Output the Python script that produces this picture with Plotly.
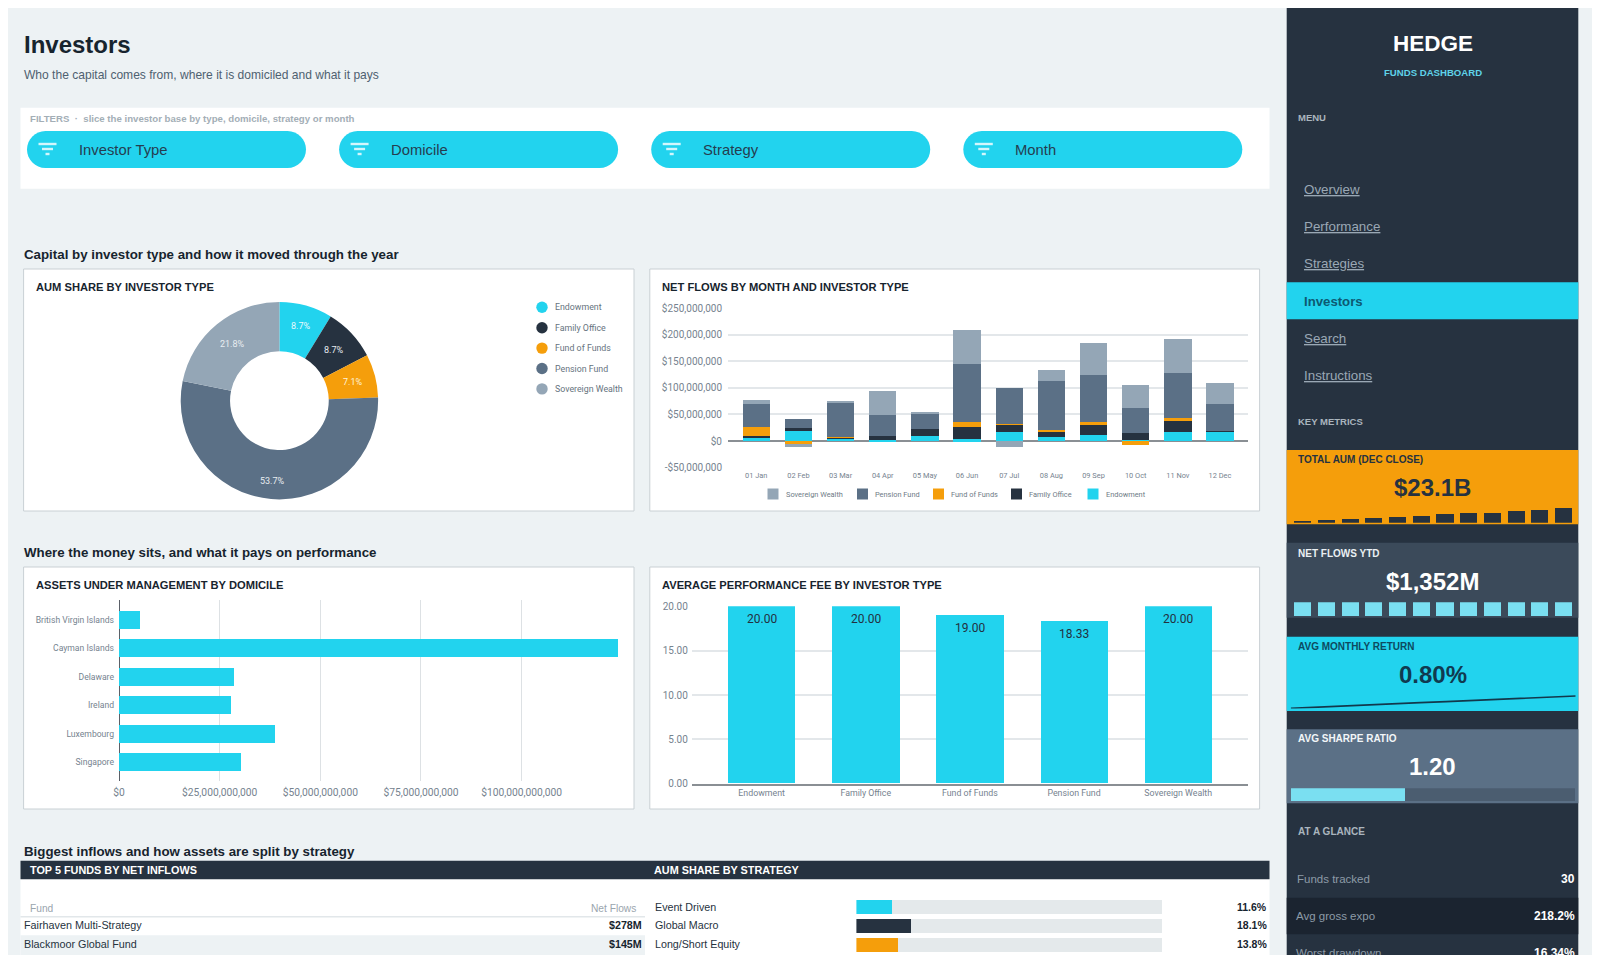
import plotly.graph_objects as go

# ---------- data ----------
INVESTOR_TYPES = ["Endowment", "Family Office", "Fund of Funds", "Pension Fund", "Sovereign Wealth"]
AUM_SHARE = [8.7, 8.7, 7.1, 53.7, 21.8]

MONTHS = ["01 Jan", "02 Feb", "03 Mar", "04 Apr", "05 May", "06 Jun", "07 Jul", "08 Aug", "09 Sep", "10 Oct", "11 Nov", "12 Dec"]
FLOW_ENDOWMENT = [6e6, 19.4e6, 4.4e6, 1.2e6, 10e6, 3e6, 16.3e6, 8e6, 12e6, 2e6, 16.3e6, 17.5e6]
FLOW_FAMILY = [4e6, 5e6, 2.5e6, 8.2e6, 13e6, 24e6, 15.6e6, 8.3e6, 18e6, 12.4e6, 22e6, 2e6]
FLOW_FOF = [15.6e6, -6e6, 0.5e6, 0, 0.3e6, 9.3e6, 0.2e6, 4.4e6, 6e6, -7.5e6, 5e6, 0.2e6]
FLOW_PENSION = [43.8e6, 18e6, 64.5e6, 40e6, 28.7e6, 109e6, 67e6, 93e6, 88e6, 47e6, 84.5e6, 50.5e6]
FLOW_SOVEREIGN = [7.5e6, -4.5e6, 3.5e6, 45.6e6, 2.4e6, 63e6, -10.6e6, 20.6e6, 61e6, 44e6, 64.5e6, 38e6]
FLOW_TICKS = [-50e6, 0, 50e6, 100e6, 150e6, 200e6, 250e6]
FLOW_TICK_LABELS = ["-$50,000,000", "$0", "$50,000,000", "$100,000,000", "$150,000,000", "$200,000,000", "$250,000,000"]

DOMICILES = ["British Virgin Islands", "Cayman Islands", "Delaware", "Ireland", "Luxembourg", "Singapore"]
DOMICILE_AUM = [5.2e9, 124e9, 28.5e9, 27.9e9, 38.7e9, 30.2e9]
DOMICILE_TICKS = [0, 25e9, 50e9, 75e9, 100e9, 125e9]
DOMICILE_TICK_LABELS = ["$0", "$25,000,000,000", "$50,000,000,000", "$75,000,000,000", "$100,000,000,000", ""]

PERF_FEE = [20.00, 20.00, 19.00, 18.33, 20.00]
FEE_TICKS = [0, 5, 10, 15, 20]

TOP_FUNDS = ["Fairhaven Multi-Strategy", "Blackmoor Global Fund"]
TOP_FUND_FLOWS = ["$278M", "$145M"]

STRATEGIES = ["Event Driven", "Global Macro", "Long/Short Equity"]
STRATEGY_SHARE = [11.6, 18.1, 13.8]

SPARK_AUM = [2.8, 4.5, 5.5, 6.6, 8.3, 10.0, 13.2, 14.9, 16.0, 18.7, 20.3, 23.1]
SPARK_FLOWS = [100, 100, 100, 100, 100, 100, 100, 100, 100, 100, 100, 100]
SPARK_RETURN = [0.8, 1.7, 2.5, 3.2, 4.1, 4.9, 5.6, 6.3, 7.0, 7.9, 8.8, 9.6]
SHARPE = 1.20
SHARPE_MAX = 3.0

NAV = ["Overview", "Performance", "Strategies", "Investors", "Search", "Instructions"]
GLANCE_LABELS = ["Funds tracked", "Avg gross expo", "Worst drawdown"]
GLANCE_VALUES = ["30", "218.2%", "16.34%"]
FILTERS = ["Investor Type", "Domicile", "Strategy", "Month"]

# ---------- styling ----------
CYAN = "#22D3EE"; NAVY = "#263240"; ORANGE = "#F59E0B"; SLATE = "#5B7086"; STEEL = "#94A6B6"
LIGHT = "#EDF2F4"; SKY = "#7ADFF1"; INK = "#17242E"
TYPE_COLORS = [CYAN, NAVY, ORANGE, SLATE, STEEL]
SANS = "Liberation Sans"; ROB = "Roboto"
TICK = "#76838F"; GRID = "#E3E7EA"

# page pixel -> figure fraction (page has 8 px body margin)
FW, FH = 1584, 947
def X(p): return (p - 8) / FW
def Y(p): return 1 - (p - 8) / FH

shapes, notes = [], []
def rect(x0, y0, x1, y1, fill, line=None):
    shapes.append(dict(type="rect", xref="paper", yref="paper", x0=X(x0), x1=X(x1), y0=Y(y0), y1=Y(y1),
                       fillcolor=fill, line=dict(color=line or fill, width=1 if line else 0), layer="below"))
def circle(cx, cy, r, fill):
    shapes.append(dict(type="circle", xref="paper", yref="paper", x0=X(cx - r), x1=X(cx + r), y0=Y(cy - r), y1=Y(cy + r),
                       fillcolor=fill, line=dict(width=0), layer="below"))
def pill(x0, y0, x1, y1, fill):
    r = (y1 - y0) / 2; k = r * 0.5523
    P = lambda x, y: f"{X(x):.6f},{Y(y):.6f}"
    d = (f"M{P(x0 + r, y0)} L{P(x1 - r, y0)} C{P(x1 - r + k, y0)} {P(x1, y0 + r - k)} {P(x1, y0 + r)} "
         f"C{P(x1, y0 + r + k)} {P(x1 - r + k, y1)} {P(x1 - r, y1)} L{P(x0 + r, y1)} "
         f"C{P(x0 + r - k, y1)} {P(x0, y0 + r + k)} {P(x0, y0 + r)} C{P(x0, y0 + r - k)} {P(x0 + r - k, y0)} {P(x0 + r, y0)} Z")
    shapes.append(dict(type="path", xref="paper", yref="paper", path=d, fillcolor=fill, line=dict(width=0), layer="below"))
def text(x, y, s, size, color=INK, bold=False, anchor="left", family=SANS, under=False):
    font = dict(size=size, color=color, family=family)
    if under:
        font["lineposition"] = "under"
    notes.append(dict(xref="paper", yref="paper", x=X(x), y=Y(y), text=f"<b>{s}</b>" if bold else s, showarrow=False,
                      xanchor=anchor, yanchor="middle", font=font, borderpad=0, borderwidth=0))

# ---------- page chrome ----------
text(24, 44.3, "Investors", 24, INK, True)
text(24, 74.5, "Who the capital comes from, where it is domiciled and what it pays", 12.05, "#4F6170")
rect(20.5, 107.7, 1269.5, 188.7, "#FFFFFF")
text(29.6, 118.2, "FILTERS  ·  slice the investor base by type, domicile, strategy or month", 9.65, "#A3AEB6", True)
for i, label in enumerate(FILTERS):
    x0 = 27 + i * 312.1
    pill(x0, 131, x0 + 279, 168, CYAN)
    for dy, w in ((144, 18), (149, 11), (154, 4)):
        cx = x0 + 20.5
        rect(cx - w / 2, dy - 1.2, cx + w / 2, dy + 1.2, "#D3F6FC")
    text(x0 + 51.5, 150, label, 14.8, "#253D50")

text(24, 254.2, "Capital by investor type and how it moved through the year", 13.3, INK, True)
text(24, 552.6, "Where the money sits, and what it pays on performance", 13.3, INK, True)
text(24, 851.3, "Biggest inflows and how assets are split by strategy", 13.3, INK, True)

for (x0, y0, x1, y1, title, pad) in [
    (23.6, 269, 634, 511, "AUM SHARE BY INVESTOR TYPE", 12.5),
    (649.8, 269, 1259.6, 511, "NET FLOWS BY MONTH AND INVESTOR TYPE", 11.8),
    (23.6, 567, 634, 809, "ASSETS UNDER MANAGEMENT BY DOMICILE", 12.5),
    (649.8, 567, 1259.6, 809, "AVERAGE PERFORMANCE FEE BY INVESTOR TYPE", 11.8),
]:
    rect(x0, y0, x1, y1, "#FFFFFF", "#C9D0D4")
    text(x0 + pad, y0 + 18, title, 11.15, INK, True)

# donut slice labels
for share, (lx, ly), col in zip(AUM_SHARE, [(300.6, 326.3), (333.7, 350.3), (352.4, 382), (272.8, 481), (232.2, 344)],
                                ["#E8FAFD", "#E8EDF1", "#FFF3DC", "#E8EDF1", "#E8EDF1"]):
    text(lx, ly, f"{share:.1f}%", 9, col, anchor="center", family=ROB)

# donut legend
for i, (name, col) in enumerate(zip(INVESTOR_TYPES, TYPE_COLORS)):
    yy = 307.3 + i * 20.4
    circle(542, yy, 5.7, col)
    text(555, yy, name, 8.8, "#66737E", family=ROB)

# flows legend
for name, col, xs, xt in zip(INVESTOR_TYPES[::-1], TYPE_COLORS[::-1], [767.5, 857, 933, 1011, 1087.5], [786, 875, 951, 1029, 1106]):
    rect(xs, 488.5, xs + 11, 499.5, col)
    text(xt, 494, name, 7.4, "#6E7B86", family=ROB)

# bottom tables
rect(20.5, 879, 1269.5, 956, "#FFFFFF")
rect(20.5, 860.7, 1269.5, 879.3, NAVY)
text(30.4, 869.7, "TOP 5 FUNDS BY NET INFLOWS", 10.85, "#FFFFFF", True)
text(654, 869.7, "AUM SHARE BY STRATEGY", 10.85, "#FFFFFF", True)
text(29.6, 908.7, "Fund", 10.2, "#9AA5AE")
text(635.6, 908.7, "Net Flows", 10.2, "#9AA5AE", anchor="right")
rect(20.5, 916, 645, 917.5, "#E2E7EA")
rect(20.5, 935.3, 645, 956, LIGHT)
for i, (name, val) in enumerate(zip(TOP_FUNDS, TOP_FUND_FLOWS)):
    yy = 925.3 + i * 18.6
    text(24.3, yy, name, 10.8, "#26323E")
    text(641.7, yy, val, 10.7, INK, True, anchor="right")
for i, (name, share) in enumerate(zip(STRATEGIES, STRATEGY_SHARE)):
    yy = 906.6 + i * 18.7
    text(654.5, yy, name, 10.7, "#26323E")
    text(1267, yy, f"{share:.1f}%", 10.5, INK, True, anchor="right")

# sidebar
rect(1286.7, 0, 1578.3, 960, NAVY)
text(1432.7, 44, "HEDGE", 22.5, "#FFFFFF", True, anchor="center")
text(1432.7, 72.7, "FUNDS DASHBOARD", 9.6, "#5FD3E9", True, anchor="center")
text(1298.2, 117.8, "MENU", 9.5, "#AAB5BE", True)
rect(1286.7, 282.3, 1578.3, 319.3, CYAN)
for name, yy in zip(NAV, [189.3, 226.7, 263.7, 301.7, 338.5, 375.5]):
    if name == "Investors":
        text(1304.3, yy, name, 13.2, "#0D5A72", True)
    else:
        text(1304.3, yy, name, 13.35, "#9AA8B5", under=True)
text(1298.2, 421.3, "KEY METRICS", 9.5, "#AAB5BE", True)

rect(1286.7, 450, 1578.3, 524.3, ORANGE)
text(1298.2, 459.3, "TOTAL AUM (DEC CLOSE)", 10, "#263240", True)
text(1432.7, 487.3, "$23.1B", 24, "#263240", True, anchor="center")
rect(1286.7, 542.7, 1578.3, 617.7, "#3B4A5A")
text(1298.2, 553.3, "NET FLOWS YTD", 10, "#EAF0F3", True)
text(1432.7, 581.3, "$1,352M", 24, "#FFFFFF", True, anchor="center")
rect(1286.7, 636.7, 1578.3, 711, CYAN)
text(1298.2, 646, "AVG MONTHLY RETURN", 10, "#0D4A60", True)
text(1432.7, 674, "0.80%", 24, "#103A50", True, anchor="center")
rect(1286.7, 729.3, 1578.3, 803.3, SLATE)
text(1298.2, 738.9, "AVG SHARPE RATIO", 10, "#F2F6F8", True)
text(1432.7, 766.9, f"{SHARPE:.2f}", 24, "#FFFFFF", True, anchor="center")
text(1298.2, 831.9, "AT A GLANCE", 10, "#AAB5BE", True)
rect(1286.7, 897.7, 1578.3, 934.3, "#1B2430")
for i, (name, val) in enumerate(zip(GLANCE_LABELS, GLANCE_VALUES)):
    yy = 879 + i * 37.2
    text(1296 if i else 1296.5, yy, name, 11.5, "#8D9BA7")
    text(1575, yy, val, 12, "#FFFFFF", True, anchor="right")

# ---------- traces ----------
fig = go.Figure()
fig.add_trace(go.Pie(labels=INVESTOR_TYPES, values=AUM_SHARE, hole=0.5, sort=False, direction="clockwise", rotation=0,
                     marker=dict(colors=TYPE_COLORS, line=dict(width=0)), textinfo="none", showlegend=False,
                     domain=dict(x=[X(279.4 - 98.7), X(279.4 + 98.7)], y=[Y(400.7 + 98.7), Y(400.7 - 98.7)])))

for name, vals, col in zip(INVESTOR_TYPES, [FLOW_ENDOWMENT, FLOW_FAMILY, FLOW_FOF, FLOW_PENSION, FLOW_SOVEREIGN], TYPE_COLORS):
    fig.add_trace(go.Bar(x=MONTHS, y=vals, name=name, marker=dict(color=col, line=dict(width=0)), width=0.65,
                         xaxis="x", yaxis="y", showlegend=False))

fig.add_trace(go.Bar(y=DOMICILES, x=DOMICILE_AUM, orientation="h", marker=dict(color=CYAN, line=dict(width=0), cornerradius=1),
                     width=0.63, xaxis="x2", yaxis="y2", showlegend=False))

fig.add_trace(go.Bar(x=INVESTOR_TYPES, y=PERF_FEE, marker=dict(color=CYAN, line=dict(width=0)), width=0.647,
                     xaxis="x3", yaxis="y3", showlegend=False))
for name, v in zip(INVESTOR_TYPES, PERF_FEE):
    notes.append(dict(xref="x3", yref="y3", x=name, y=v, yshift=-12.5, text=f"{v:.2f}", showarrow=False,
                      yanchor="middle", font=dict(size=12, color="#22303F", family=ROB)))

fig.add_trace(go.Bar(y=STRATEGIES, x=STRATEGY_SHARE, orientation="h", marker=dict(color=TYPE_COLORS[:3], line=dict(width=0)),
                     width=0.75, xaxis="x4", yaxis="y4", showlegend=False))
fig.add_trace(go.Bar(y=STRATEGIES, x=[100 - s for s in STRATEGY_SHARE], orientation="h", marker=dict(color="#E4E9EB", line=dict(width=0)),
                     width=0.75, xaxis="x4", yaxis="y4", showlegend=False))

IDX = list(range(12))
fig.add_trace(go.Bar(x=IDX, y=SPARK_AUM, marker=dict(color="#263240", line=dict(width=0)), width=0.72, xaxis="x5", yaxis="y5", showlegend=False))
fig.add_trace(go.Bar(x=IDX, y=SPARK_FLOWS, marker=dict(color=SKY, line=dict(width=0)), width=0.72, xaxis="x6", yaxis="y6", showlegend=False))
fig.add_trace(go.Scatter(x=IDX, y=SPARK_RETURN, mode="lines", line=dict(color="#12384C", width=1.6), xaxis="x7", yaxis="y7", showlegend=False))
fig.add_trace(go.Bar(y=["s"], x=[SHARPE], orientation="h", marker=dict(color=SKY, line=dict(width=0)), width=1, xaxis="x8", yaxis="y8", showlegend=False))
fig.add_trace(go.Bar(y=["s"], x=[SHARPE_MAX - SHARPE], orientation="h", marker=dict(color="#4B5D70", line=dict(width=0)), width=1, xaxis="x8", yaxis="y8", showlegend=False))

def hidden(a, b, rng=None, **kw):
    d = dict(domain=[a, b], visible=False, fixedrange=True, **kw)
    if rng is not None:
        d["range"] = rng
    return d

layout = dict(
    width=FW, height=FH, margin=dict(l=0, r=0, t=0, b=0, pad=0, autoexpand=False), autosize=False,
    paper_bgcolor=LIGHT, plot_bgcolor="rgba(0,0,0,0)", barmode="relative", bargap=0, hovermode=False,
    font=dict(family=ROB, color=TICK), showlegend=False, shapes=shapes, annotations=notes,
    # net flows
    xaxis=dict(domain=[X(728), X(1248)], range=[-0.671, 11.665], type="category", categoryorder="array", categoryarray=MONTHS,
               anchor="y", showgrid=False, zeroline=False, tickfont=dict(size=7.4, color=TICK), ticks="", ticklabelstandoff=2),
    yaxis=dict(domain=[Y(467.7), Y(308)], range=[-50e6, 250e6], anchor="x", tickvals=FLOW_TICKS, ticktext=FLOW_TICK_LABELS,
               gridcolor=GRID, gridwidth=1.5, zeroline=True, zerolinecolor="#8A8F94", zerolinewidth=2,
               tickfont=dict(size=10, color=TICK), ticks="", ticklabelstandoff=5),
    # domicile
    xaxis2=dict(domain=[X(119), X(622.3)], range=[0, 125e9], anchor="y2", tickvals=DOMICILE_TICKS, ticktext=DOMICILE_TICK_LABELS,
                gridcolor="#DDE1E4", gridwidth=1, zeroline=True, zerolinecolor="#5A6068", zerolinewidth=1,
                tickfont=dict(size=10.25, color=TICK), ticks="", ticklabelstandoff=4),
    yaxis2=dict(domain=[Y(781), Y(600)], range=[5.65, -0.70], type="category", categoryorder="array", categoryarray=DOMICILES,
                anchor="x2", showgrid=False, zeroline=False, tickfont=dict(size=8.6, color=TICK), ticks="", ticklabelstandoff=4),
    # fees
    xaxis3=dict(domain=[X(691.8), X(1248)], range=[-0.67, 4.67], type="category", categoryorder="array", categoryarray=INVESTOR_TYPES,
                anchor="y3", showgrid=False, zeroline=False, showline=True, linecolor="#8A8F94", linewidth=2,
                tickfont=dict(size=8.8, color=TICK), ticks="", ticklabelstandoff=0),
    yaxis3=dict(domain=[Y(783.7), Y(606.3)], range=[0, 20], anchor="x3", tickvals=FEE_TICKS, tickformat=".2f", gridcolor=GRID, gridwidth=1.5,
                zeroline=False, tickfont=dict(size=10, color=TICK), ticks="", ticklabelstandoff=3),
    # strategy bars
    xaxis4=hidden(X(856.4), X(1162.5), [0, 100], anchor="y4"),
    yaxis4=hidden(Y(954), Y(897.6), [2.5, -0.5], anchor="x4", type="category", categoryorder="array", categoryarray=STRATEGIES),
    # sidebar sparks
    xaxis5=hidden(X(1291), X(1575.3), [-0.5, 11.5], anchor="y5"),
    yaxis5=hidden(Y(522.7), Y(506.2), [0, 27], anchor="x5"),
    xaxis6=hidden(X(1291), X(1575.3), [-0.5, 11.5], anchor="y6"),
    yaxis6=hidden(Y(616), Y(602.3), [0, 100], anchor="x6"),
    xaxis7=hidden(X(1290.7), X(1575.7), [0, 11], anchor="y7"),
    yaxis7=hidden(Y(708.4), Y(695), [0.8 - 0.0, 9.6 + 0.7], anchor="x7"),
    xaxis8=hidden(X(1290.7), X(1575), [0, SHARPE_MAX], anchor="y8"),
    yaxis8=hidden(Y(801.7), Y(788.3), [-0.5, 0.5], anchor="x8"),
)
fig.update_layout(**layout)
fig.write_html("out.html", config=dict(displayModeBar=False, responsive=False),
               post_script="document.documentElement.style.overflow='hidden';")
